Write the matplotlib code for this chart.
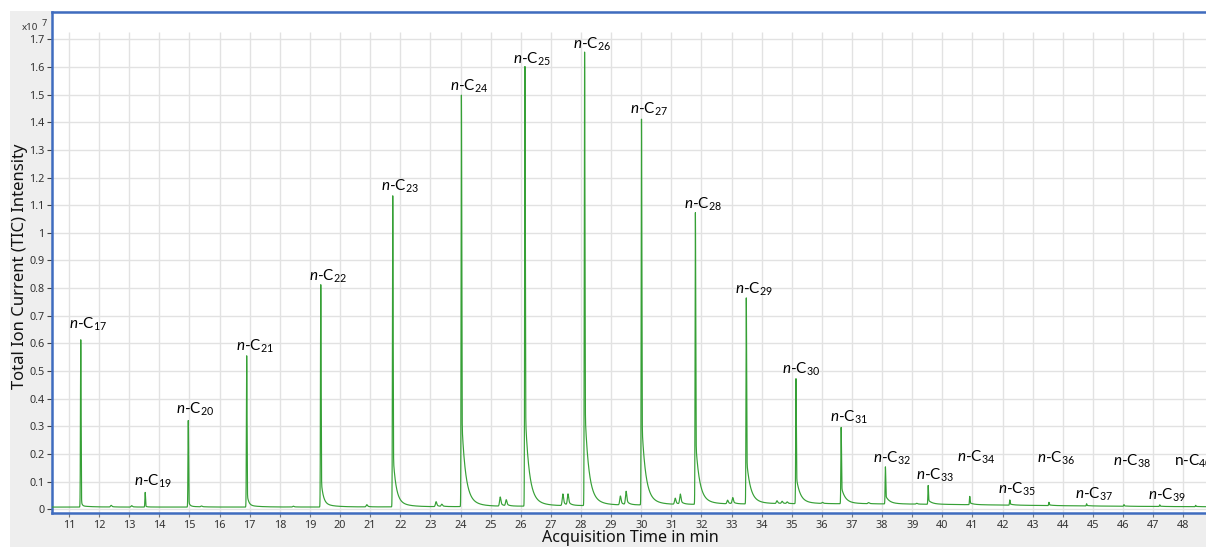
import numpy as np
import matplotlib
matplotlib.use("Agg")
import matplotlib.pyplot as plt
from matplotlib.patches import Rectangle

# ---------------------------------------------------------------------------
# Peak table (intensities in units of 10^7 counts, times in minutes)
# ---------------------------------------------------------------------------
alkane_carbons = [17, 19, 20, 21, 22, 23, 24, 25, 26, 27, 28, 29,
                  30, 31, 32, 33, 34, 35, 36, 37, 38, 39, 40]
alkane_rt = [11.39, 13.53, 14.96, 16.90, 19.36, 21.75, 24.03, 26.14,
             28.12, 30.01, 31.80, 33.49, 35.14, 36.64, 38.11, 39.53,
             40.91, 42.24, 43.54, 44.79, 46.03, 47.22, 48.41]
alkane_height = [0.605, 0.053, 0.313, 0.547, 0.804, 1.125, 1.488, 1.590,
                 1.640, 1.395, 1.055, 0.745, 0.452, 0.276, 0.134, 0.068,
                 0.030, 0.019, 0.012, 0.008, 0.006, 0.006, 0.005]
# relative strength of the peak tailing (later, heavier peaks tail more)
alkane_tailing = [0.25, 0.35, 0.35, 0.45, 0.6, 0.8, 1.0, 1.0, 1.0, 1.0, 1.0, 1.0,
                  1.0, 1.0, 1.0, 1.0, 1.0, 1.0, 1.0, 1.0, 1.0, 1.0, 1.0]

# smaller, unlabelled components
minor_rt = [12.40, 13.08, 15.40, 18.45, 20.89, 23.19, 23.38, 25.32, 25.52,
            27.40, 27.57, 29.31, 29.50, 31.13, 31.30, 32.87, 33.04, 34.51,
            34.68, 34.85, 36.02, 37.55, 39.15]
minor_height = [0.006, 0.005, 0.003, 0.003, 0.008, 0.018, 0.008, 0.033, 0.022,
                0.042, 0.040, 0.032, 0.048, 0.022, 0.036, 0.013, 0.022, 0.010,
                0.008, 0.006, 0.004, 0.004, 0.003]

# baseline: constant offset plus the broad unresolved hump
baseline_level = 0.008
hump_center, hump_width, hump_height = 36.0, 6.0, 0.012

x_ticks = list(range(11, 49))
y_ticks = [i / 10 for i in range(0, 18)]

# label anchor points (time, intensity) for each n-alkane label
label_t = [11.63, 13.77, 15.18, 17.16, 19.60, 22.00, 24.27, 26.38, 28.36,
           30.27, 32.06, 33.73, 35.32, 36.88, 38.34, 39.76, 41.13, 42.46,
           43.76, 45.05, 46.28, 47.45, 47.69]
label_y = [0.655, 0.084, 0.345, 0.573, 0.826, 1.151, 1.513, 1.613, 1.665,
           1.432, 1.089, 0.781, 0.489, 0.317, 0.170, 0.106, 0.172, 0.058,
           0.170, 0.038, 0.158, 0.036, 0.158]


def peak_shape(t, t0, h, sigma, f1, tau1, f2, tau2):
    """Gaussian front with a two-component exponential tail."""
    dt = t - t0
    g = np.exp(-0.5 * (dt / sigma) ** 2)
    pos = np.clip(dt, 0, None)
    tail = f1 * np.exp(-pos / tau1) + f2 * np.exp(-pos / tau2)
    return h * np.where(dt > 0, (1 - f1 - f2) * g + tail, g)


t = np.arange(10.4, 48.8, 0.002)
signal = baseline_level + hump_height * np.exp(-0.5 * ((t - hump_center) / hump_width) ** 2)
for rt, h, k in zip(alkane_rt, alkane_height, alkane_tailing):
    signal += peak_shape(t, rt, h, 0.010, 0.20 * k, 0.12 * k, 0.03 * k, 0.35)
for rt, h in zip(minor_rt, minor_height):
    signal += peak_shape(t, rt, h, 0.022, 0.30, 0.08, 0.05, 0.25)

# ---------------------------------------------------------------------------
# Figure
# ---------------------------------------------------------------------------
plt.rcParams['mathtext.fontset'] = 'custom'
plt.rcParams['mathtext.rm'] = 'Lato'
plt.rcParams['mathtext.it'] = 'Lato:italic'

W, H = 1206, 547
fig = plt.figure(figsize=(W / 100, H / 100), dpi=100, facecolor='white')
fig.patches.append(Rectangle((10 / W, 0), 1, 1 - 11 / H, transform=fig.transFigure,
                             facecolor='#eeeeee', edgecolor='none', zorder=-10))

ax = fig.add_axes([52 / W, 1 - 513 / H, 1 - 52 / W, (513 - 12) / H])
ax.set_facecolor('white')
ax.set_xlim(10.435, 48.755)
ax.set_ylim(-0.0134, 1.7986)

grid_color = '#e2e2e2'
grid_top = 1.726
ax.vlines(x_ticks, -0.0134, grid_top, color=grid_color, lw=1.0, zorder=0)
ax.hlines(y_ticks, 10.435, 48.755, color=grid_color, lw=1.0, zorder=0)

ax.plot(t, signal, color='#36a036', lw=0.85, zorder=3)

ax.set_xticks(x_ticks)
ax.set_xticklabels([str(v) for v in x_ticks])
ax.set_yticks(y_ticks)
ax.set_yticklabels([f'{v:g}' for v in y_ticks])
for lab in ax.get_xticklabels() + ax.get_yticklabels():
    lab.set_fontfamily('Noto Sans')
    lab.set_fontsize(7.8)
    lab.set_color('#333333')
ax.tick_params(axis='x', direction='out', length=3, width=0.8, color='#777777', pad=2)
ax.tick_params(axis='y', direction='out', length=3.5, width=0.8, color='#444444', pad=2)

spine_color = '#3f6cbf'
for side in ('left', 'bottom', 'top'):
    ax.spines[side].set_color(spine_color)
    ax.spines[side].set_linewidth(1.8)
ax.spines['right'].set_visible(False)

for n, lt, ly in zip(alkane_carbons, label_t, label_y):
    if n == 40:
        ax.text(lt, ly, f'n-C$_{{{n}}}$', ha='left', va='baseline',
                fontsize=11, family='Lato', color='black', zorder=5, clip_on=True)
    else:
        ax.text(lt, ly, f'$\\mathit{{n}}$-C$_{{{n}}}$', ha='center', va='baseline',
                fontsize=11, family='Lato', color='black', zorder=5)

fig.text(630 / W, 1 - 538 / H, 'Acquisition Time in min', ha='center', va='center',
         family='Noto Sans', fontsize=11.6, color='#111111')
fig.text(20 / W, 1 - 266 / H, 'Total Ion Current (TIC) Intensity', ha='center',
         va='center', rotation=90, family='Noto Sans', fontsize=12, color='#111111')
fig.text(22 / W, 1 - 27 / H, 'x10', ha='left', va='center', family='Noto Sans',
         fontsize=7, color='#333333')
fig.text(42 / W, 1 - 23 / H, '7', ha='left', va='center', family='Noto Sans',
         fontsize=6.5, color='#333333')

fig.savefig('out.png', dpi=100, facecolor=fig.get_facecolor())
